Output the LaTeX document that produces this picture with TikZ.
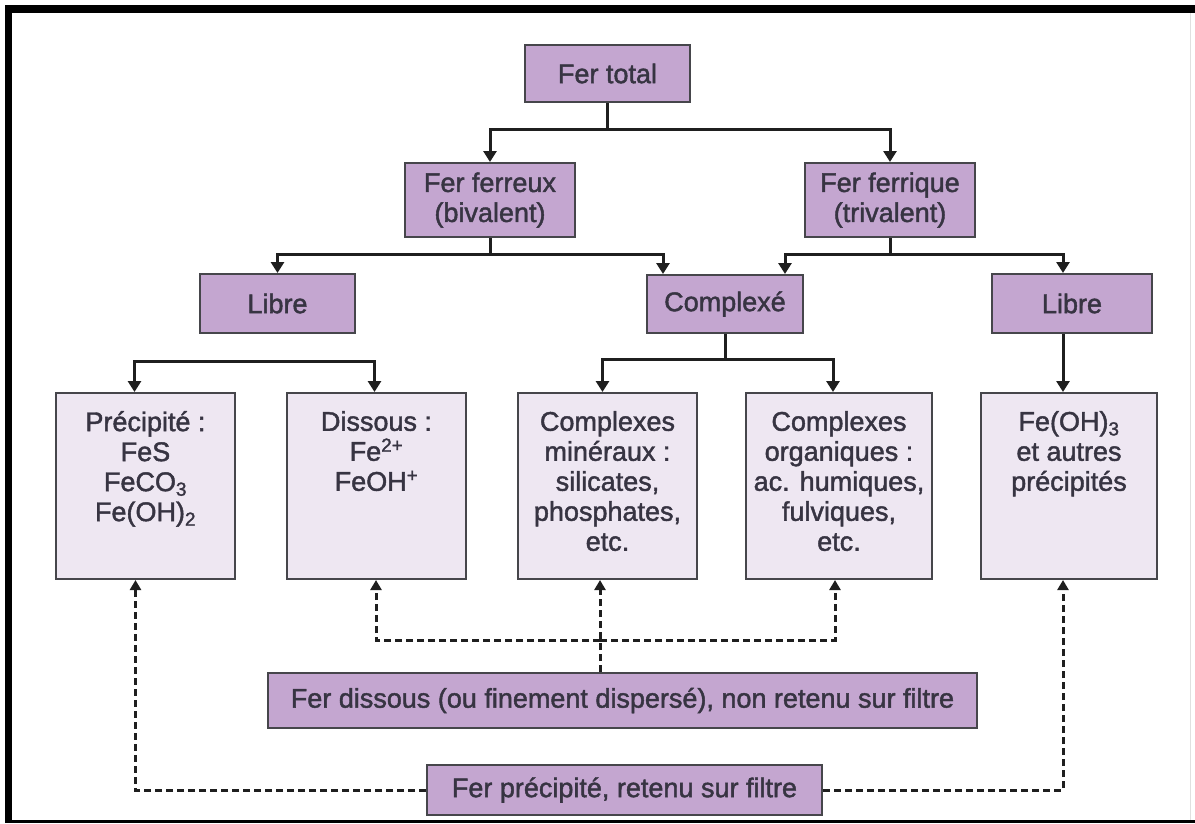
\documentclass[tikz,border=0pt]{standalone}
\usepackage{fontspec}
\setmainfont{Liberation Sans}
\newfontfamily\medfont{Liberation Sans}[FakeBold=1.6]
\usetikzlibrary{arrows.meta}
\definecolor{boxdark}{RGB}{196,166,208}
\definecolor{boxlight}{RGB}{238,231,242}
\definecolor{edgegray}{RGB}{70,70,75}
\definecolor{txt}{RGB}{55,52,66}
\begin{document}
\begin{tikzpicture}[x=1pt,y=-1pt,
  font=\medfont\fontsize{27}{30}\selectfont, text=txt,
  dbox/.style={draw=edgegray, line width=2pt, fill=boxdark, align=center, inner sep=0pt},
  lbox/.style={draw=edgegray, line width=2pt, fill=boxlight, inner sep=0pt},
  ltext/.style={anchor=north, align=center, inner sep=0pt},
  arr/.style={line width=3pt, draw=black!88, -{Triangle[width=13pt,length=11pt]}},
  darr/.style={line width=3pt, draw=black!88, dash pattern=on 7pt off 4pt, -{Triangle[width=11pt,length=10pt]}}]
\useasboundingbox (0,0) rectangle (1195,823);
% frame
\fill[black] (5,5) rectangle (1195,13);
\fill[black] (5,5) rectangle (12,823);
\fill[black] (5,820) rectangle (1195,823);
\draw[black!12, line width=0.8pt] (1190,13) -- (1190,820);
% top levels
\node[dbox, minimum width=165pt, minimum height=57pt] (total) at (607.5,73.5) {Fer total};
\node[dbox, minimum width=170pt, minimum height=74pt] (ferreux) at (490,200) {Fer ferreux\\(bivalent)};
\node[dbox, minimum width=170pt, minimum height=74pt] (ferrique) at (890,200) {Fer ferrique\\(trivalent)};
\node[dbox, minimum width=155pt, minimum height=59pt] (libreL) at (277.5,303.5) {Libre};
\node[dbox, minimum width=156pt, minimum height=58pt] (complexe) at (725,304) {Complexé};
\node[dbox, minimum width=160pt, minimum height=59pt] (libreR) at (1072,303.5) {Libre};
% light boxes
\node[lbox, minimum width=179pt, minimum height=186pt] (precip) at (145.5,486) {};
\node[lbox, minimum width=179pt, minimum height=186pt] (dissous) at (376.5,486) {};
\node[lbox, minimum width=179pt, minimum height=186pt] (cmin) at (607.5,486) {};
\node[lbox, minimum width=186pt, minimum height=186pt] (corg) at (839,486) {};
\node[lbox, minimum width=176pt, minimum height=186pt] (feoh) at (1069,486) {};
\node[ltext] (precipT) at ([yshift=-19pt]precip.north) {Précipité :\\FeS\\FeCO\textsubscript{3}\\Fe(OH)\textsubscript{2}};
\node[ltext] (dissousT) at ([yshift=-19pt]dissous.north) {Dissous :\\Fe\textsuperscript{2+}\\FeOH\textsuperscript{+}};
\node[ltext] (cminT) at ([yshift=-19pt]cmin.north) {Complexes\\minéraux :\\silicates,\\phosphates,\\etc.};
\node[ltext] (corgT) at ([yshift=-19pt]corg.north) {Complexes\\organiques :\\ac. humiques,\\fulviques,\\etc.};
\node[ltext] (feohT) at ([yshift=-19pt]feoh.north) {Fe(OH)\textsubscript{3}\\et autres\\précipités};
% bottom boxes
\node[dbox, minimum width=709pt, minimum height=55pt] (fdis) at (622.5,700.5) {Fer dissous (ou finement dispersé), non retenu sur filtre};
\node[dbox, minimum width=395pt, minimum height=50pt] (fprec) at (624.5,790) {Fer précipité, retenu sur filtre};
% solid connectors
\draw[arr] (total.south) -- ++(0,26) -| (ferreux.north);
\draw[arr] (total.south) -- ++(0,26) -| (ferrique.north);
\draw[arr] (ferreux.south) -- ++(0,16) -| (libreL.north);
\draw[arr] (ferreux.south) -- ++(0,16) -| ([xshift=17pt]complexe.north west);
\draw[arr] (ferrique.south) -- ++(0,16) -| ([xshift=-19pt]complexe.north east);
\draw[arr] (ferrique.south) -- ++(0,16) -| ([xshift=-9pt]libreR.north);
\path (libreL.south) ++(0,27) coordinate (lsplit);
\draw[arr] (lsplit) -| ([xshift=-11pt]precip.north);
\draw[arr] (lsplit) -| ([xshift=-2pt]dissous.north);
\draw[arr] (complexe.south) -- ++(0,25) -| ([xshift=-5pt]cmin.north);
\draw[arr] (complexe.south) -- ++(0,25) -| ([xshift=-6pt]corg.north);
\draw[arr] ([xshift=-9pt]libreR.south) -- ([xshift=-6pt]feoh.north);
% dashed connectors
\draw[darr] ([xshift=-22.5pt]fdis.north) -- ([xshift=-7.5pt]cmin.south);
\path ([xshift=-22.5pt]fdis.north) ++(0,-32) coordinate (dsplit);
\draw[darr] (dsplit) -| ([xshift=-0.5pt]dissous.south);
\draw[darr] (dsplit) -| ([xshift=-4pt]corg.south);
\draw[darr] (fprec.west) -| ([xshift=-10pt]precip.south);
\draw[darr] (fprec.east) -| ([xshift=-6pt]feoh.south);
\end{tikzpicture}
\end{document}
